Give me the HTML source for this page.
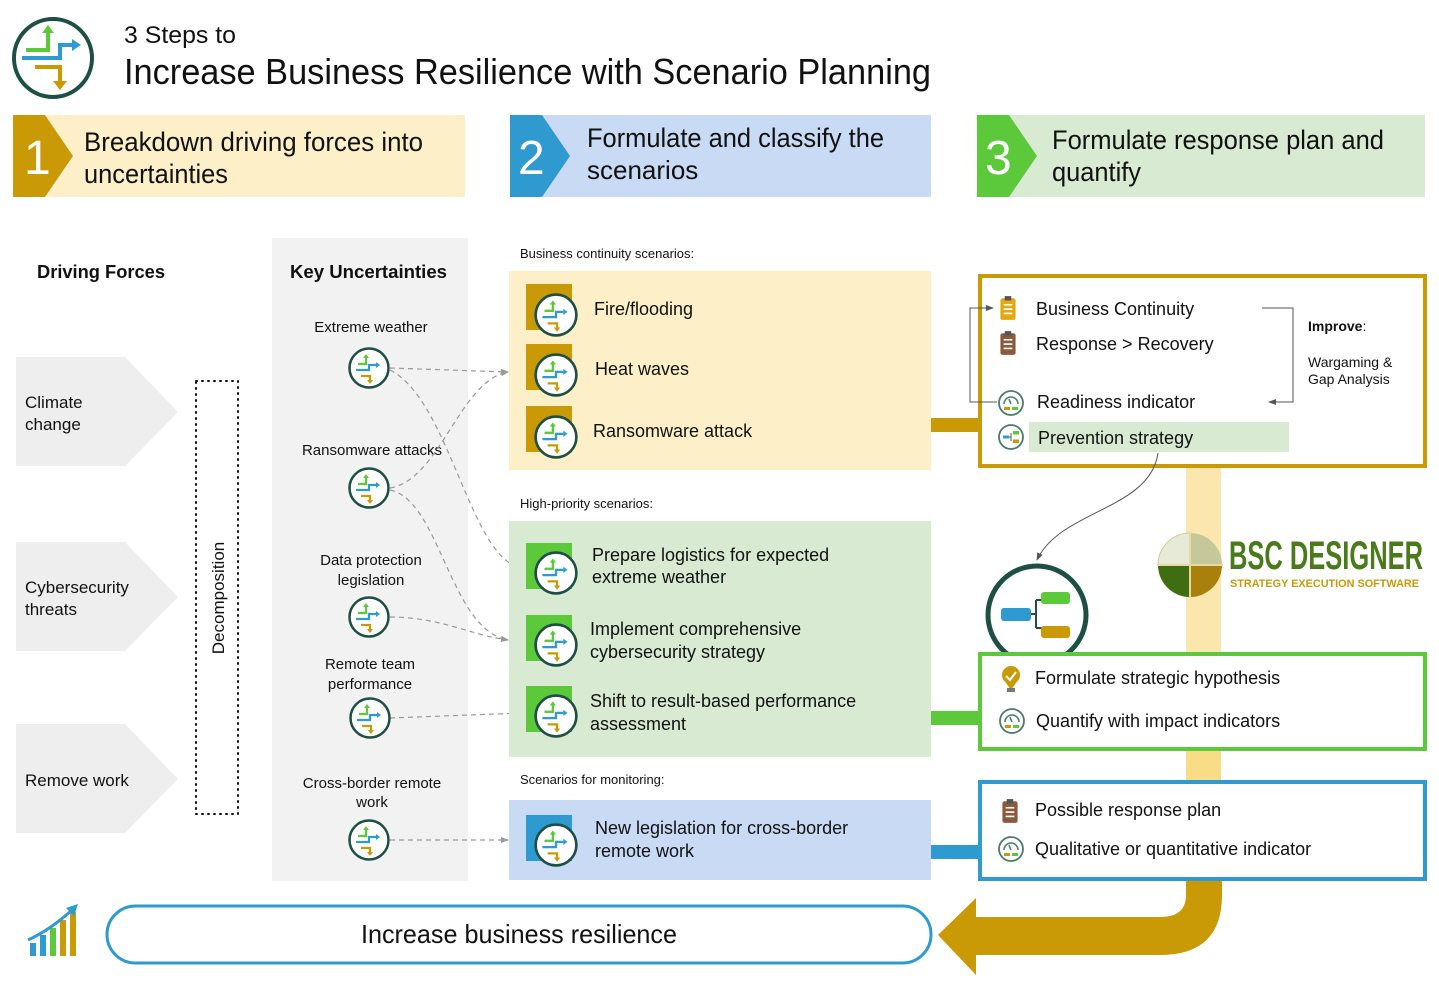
<!DOCTYPE html>
<html><head><meta charset="utf-8"><style>
html,body{margin:0;padding:0;background:#fff;}
svg{display:block;}
text{font-family:"Liberation Sans",sans-serif;fill:#111;}
</style></head><body>
<svg width="1439" height="982" viewBox="0 0 1439 982" xmlns="http://www.w3.org/2000/svg">
<defs>
<symbol id="ic" viewBox="-22 -22 44 44">
<circle r="19.5" fill="#fff" stroke="#1d4f45" stroke-width="2.5"/>
<path d="M-11 -4 H-3 V-11" fill="none" stroke="#5cc93a" stroke-width="2.2"/>
<path d="M-6 -10 L-3 -14 L0 -10Z" fill="#5cc93a"/>
<path d="M-13 2 H0 V-3 H7" fill="none" stroke="#2e9ad0" stroke-width="2.2"/>
<path d="M7 -6 L11 -3 L7 0Z" fill="#2e9ad0"/>
<path d="M-8 8 H1 V13" fill="none" stroke="#c99a06" stroke-width="2.2"/>
<path d="M-2 12 L1 16 L4 12Z" fill="#c99a06"/>
</symbol>
<symbol id="gauge" viewBox="-14 -14 28 28">
<circle r="12" fill="#fff" stroke="#4a7a6a" stroke-width="1.8"/>
<path d="M-7 1 A7 7 0 0 1 7 1" fill="none" stroke="#4a7a6a" stroke-width="1.5"/>
<line x1="0" y1="1" x2="-2" y2="-4" stroke="#4a7a6a" stroke-width="1.5"/>
<rect x="-7" y="4" width="6" height="3" fill="#c99a06"/><rect x="1" y="4" width="6" height="3" fill="#5cc93a"/>
</symbol>
<symbol id="clip" viewBox="0 0 16 24">
<rect x="1" y="3" width="14" height="20" rx="2"/>
<rect x="5" y="1" width="6" height="4" fill="#555"/>
<g stroke="#fff" stroke-width="1.5"><line x1="4" y1="9" x2="12" y2="9"/><line x1="4" y1="13" x2="12" y2="13"/><line x1="4" y1="17" x2="12" y2="17"/></g>
</symbol>
<marker id="ah" markerWidth="8" markerHeight="8" refX="7" refY="4" orient="auto" markerUnits="userSpaceOnUse"><path d="M0 1 L8 4 L0 7Z" fill="#999"/></marker>
<marker id="ah2" markerWidth="8" markerHeight="8" refX="7" refY="4" orient="auto" markerUnits="userSpaceOnUse"><path d="M0 1 L8 4 L0 7Z" fill="#555"/></marker>
</defs>

<circle cx="53" cy="58" r="39" fill="#fff" stroke="#1d4f45" stroke-width="4"/>
<path d="M26 50 H48 V31" fill="none" stroke="#5cc93a" stroke-width="4"/>
<path d="M42 33 L48 25 L54 33Z" fill="#5cc93a"/>
<path d="M22 58 H60 V45 H72" fill="none" stroke="#2e9ad0" stroke-width="4"/>
<path d="M72 39 L81 45 L72 51Z" fill="#2e9ad0"/>
<path d="M35 67 H60 V82" fill="none" stroke="#c99a06" stroke-width="4"/>
<path d="M53 81 L60 90 L67 81Z" fill="#c99a06"/>
<text x="124" y="43" font-size="24" textLength="112" lengthAdjust="spacingAndGlyphs">3 Steps to</text>
<text x="124" y="84" font-size="36" textLength="807" lengthAdjust="spacingAndGlyphs">Increase Business Resilience with Scenario Planning</text>

<rect x="13" y="115" width="452" height="82" fill="#fdf0c8"/>
<path d="M13 115 H45 L73 156 L45 197 H13Z" fill="#c99a06"/>
<text x="24" y="174" font-size="48" style="fill:#fff">1</text>
<text x="84" y="151" font-size="27" textLength="339" lengthAdjust="spacingAndGlyphs">Breakdown driving forces into</text>
<text x="84" y="183" font-size="27" textLength="144" lengthAdjust="spacingAndGlyphs">uncertainties</text>

<rect x="510" y="115" width="421" height="82" fill="#c9daf5"/>
<path d="M510 115 H542 L570 156 L542 197 H510Z" fill="#2e9ad0"/>
<text x="518" y="174" font-size="48" style="fill:#fff">2</text>
<text x="587" y="147" font-size="27" textLength="297" lengthAdjust="spacingAndGlyphs">Formulate and classify the</text>
<text x="587" y="179" font-size="26">scenarios</text>

<rect x="977" y="115" width="448" height="82" fill="#d9ead3"/>
<path d="M977 115 H1009 L1037 156 L1009 197 H977Z" fill="#5cc93a"/>
<text x="985" y="174" font-size="48" style="fill:#fff">3</text>
<text x="1052" y="149" font-size="27" textLength="332" lengthAdjust="spacingAndGlyphs">Formulate response plan and</text>
<text x="1052" y="181" font-size="27" textLength="89" lengthAdjust="spacingAndGlyphs">quantify</text>

<text x="37" y="278" font-size="18" font-weight="bold" textLength="128" lengthAdjust="spacingAndGlyphs">Driving Forces</text>
<rect x="272" y="238" width="196" height="643" fill="#f2f2f2"/>
<text x="290" y="278" font-size="18" font-weight="bold" textLength="157" lengthAdjust="spacingAndGlyphs">Key Uncertainties</text>

<path d="M16 357 H125 L178 412 L125 466 H16Z" fill="#eeeeee"/>
<text x="25" y="408" font-size="17">Climate</text><text x="25" y="430" font-size="17">change</text>
<path d="M16 542 H125 L178 597 L125 651 H16Z" fill="#eeeeee"/>
<text x="25" y="593" font-size="17">Cybersecurity</text><text x="25" y="615" font-size="17">threats</text>
<path d="M16 724 H125 L178 779 L125 833 H16Z" fill="#eeeeee"/>
<text x="25" y="786" font-size="17">Remove work</text>

<rect x="196" y="381" width="42" height="433" fill="none" stroke="#111" stroke-width="2" stroke-dasharray="1 5" stroke-linecap="round"/>
<text transform="translate(224,598) rotate(-90)" font-size="17" text-anchor="middle">Decomposition</text>

<g font-size="15" text-anchor="middle" fill="#222">
<text x="371" y="332">Extreme weather</text>
<text x="372" y="455">Ransomware attacks</text>
<text x="371" y="565">Data protection</text><text x="371" y="585">legislation</text>
<text x="370" y="669">Remote team</text><text x="370" y="689">performance</text>
<text x="372" y="788">Cross-border remote</text><text x="372" y="807">work</text>
</g>

<g fill="none" stroke="#999" stroke-width="1.2" stroke-dasharray="5 4" marker-end="url(#ah)">
<path d="M390 368 L508 372"/>
<path d="M390 370 C450 400 470 560 522 568"/>
<path d="M390 488 C440 480 460 380 508 372"/>
<path d="M390 490 C440 500 450 630 508 640"/>
<path d="M390 617 C440 617 470 635 508 640"/>
<path d="M390 718 L522 713"/>
<path d="M390 840 L508 840"/>
</g>

<use href="#ic" x="347" y="346" width="44" height="44"/>
<use href="#ic" x="347" y="466" width="44" height="44"/>
<use href="#ic" x="347" y="595" width="44" height="44"/>
<use href="#ic" x="348" y="696" width="44" height="44"/>
<use href="#ic" x="347" y="818" width="44" height="44"/>

<text x="520" y="258" font-size="13">Business continuity scenarios:</text>
<rect x="509" y="271" width="422" height="199" fill="#fdf0c8"/>
<rect x="526" y="284" width="46" height="46" fill="#c99a06"/>
<rect x="526" y="344" width="46" height="46" fill="#c99a06"/>
<rect x="526" y="406" width="46" height="46" fill="#c99a06"/>
<use href="#ic" x="533" y="292" width="46" height="46"/>
<use href="#ic" x="533" y="352" width="46" height="46"/>
<use href="#ic" x="533" y="414" width="46" height="46"/>
<g font-size="18"><text x="594" y="315">Fire/flooding</text><text x="595" y="375">Heat waves</text><text x="593" y="437">Ransomware attack</text></g>

<text x="520" y="508" font-size="13">High-priority scenarios:</text>
<rect x="509" y="521" width="422" height="236" fill="#d9ead3"/>
<rect x="526" y="543" width="46" height="46" fill="#5cc93a"/>
<rect x="526" y="615" width="46" height="46" fill="#5cc93a"/>
<rect x="526" y="686" width="46" height="46" fill="#5cc93a"/>
<use href="#ic" x="533" y="550" width="46" height="46"/>
<use href="#ic" x="533" y="622" width="46" height="46"/>
<use href="#ic" x="533" y="693" width="46" height="46"/>
<g font-size="18">
<text x="592" y="561">Prepare logistics for expected</text><text x="592" y="583">extreme weather</text>
<text x="590" y="635">Implement comprehensive</text><text x="590" y="658">cybersecurity strategy</text>
<text x="590" y="707">Shift to result-based performance</text><text x="590" y="730">assessment</text>
</g>

<text x="520" y="784" font-size="13">Scenarios for monitoring:</text>
<rect x="509" y="800" width="422" height="80" fill="#c9daf5"/>
<rect x="526" y="815" width="46" height="46" fill="#2e9ad0"/>
<use href="#ic" x="533" y="822" width="46" height="46"/>
<g font-size="18"><text x="595" y="834">New legislation for cross-border</text><text x="595" y="857">remote work</text></g>

<rect x="931" y="418" width="50" height="14" fill="#c99a06"/>
<rect x="931" y="711" width="50" height="14" fill="#5cc93a"/>
<rect x="931" y="845" width="50" height="14" fill="#2e9ad0"/>

<rect x="1186" y="466" width="35" height="316" fill="#fbe7ad"/>
<rect x="1186" y="749" width="35" height="33" fill="#f9dc86"/>

<path d="M1186 879 V895 Q1186 917 1160 917 H976 V898 L938 935 L976 975 V955 H1160 Q1222 955 1222 895 V879Z" fill="#c99a06"/>

<rect x="980" y="276" width="445" height="190" fill="#fff" stroke="#c99a06" stroke-width="4"/>
<use href="#clip" x="999" y="295" width="18" height="26" fill="#e0a912"/>
<use href="#clip" x="999" y="330" width="18" height="26" fill="#8b5a3c"/>
<use href="#gauge" x="997" y="389" width="28" height="28"/>
<g transform="translate(1011,437)">
<circle r="12" fill="#fff" stroke="#4a7a6a" stroke-width="1.8"/>
<rect x="-8" y="-1.5" width="6" height="3" fill="#2e9ad0"/>
<rect x="2" y="-6" width="6" height="3.5" fill="#5cc93a"/><rect x="2" y="2.5" width="6" height="3.5" fill="#c99a06"/>
<path d="M-2 0 H0 M0 -4 V4" stroke="#555" stroke-width="1"/>
</g>
<rect x="1029" y="422" width="260" height="30" fill="#d9ead3"/>
<g font-size="18">
<text x="1036" y="315">Business Continuity</text>
<text x="1036" y="350">Response &gt; Recovery</text>
<text x="1037" y="408">Readiness indicator</text>
<text x="1038" y="444">Prevention strategy</text>
</g>
<path d="M997 402 H970 V308 H993" fill="none" stroke="#555" stroke-width="1" marker-end="url(#ah2)"/>
<path d="M1262 308 H1293 V402 H1269" fill="none" stroke="#555" stroke-width="1" marker-end="url(#ah2)"/>
<text x="1308" y="331" font-size="14"><tspan font-weight="bold">Improve</tspan>:</text>
<text x="1308" y="367" font-size="14">Wargaming &amp;</text>
<text x="1308" y="384" font-size="14">Gap Analysis</text>
<path d="M1158 453 C1150 510 1060 510 1037 560" fill="none" stroke="#555" stroke-width="1" marker-end="url(#ah2)"/>

<g transform="translate(1190,565)">
<path d="M0 0 V-32 A32 32 0 0 0 -32 0Z" fill="#e8ead8" stroke="#d6c890" stroke-width="1"/>
<path d="M0 0 V-32 A32 32 0 0 1 32 0Z" fill="#c5c99a"/>
<path d="M0 0 H-32 A32 32 0 0 0 0 32Z" fill="#3f6d12"/>
<path d="M0 0 H32 A32 32 0 0 1 0 32Z" fill="#a9800c"/>
<path d="M-33 0 H33 M0 -33 V33" stroke="#e9d9a0" stroke-width="2"/>
</g>
<text x="1229" y="569" font-size="40" font-weight="bold" style="fill:#4a7a1a" textLength="194" lengthAdjust="spacingAndGlyphs">BSC DESIGNER</text>
<text x="1230" y="587" font-size="11" font-weight="bold" style="fill:#c99a06" textLength="189" lengthAdjust="spacingAndGlyphs">STRATEGY EXECUTION SOFTWARE</text>

<circle cx="1037" cy="615" r="49" fill="#fff" stroke="#1d4f45" stroke-width="5"/>
<rect x="1001" y="608" width="30" height="13" rx="3" fill="#2e9ad0"/>
<path d="M1031 614 H1036 M1036 600 V628 M1036 600 H1042 M1036 628 H1042" stroke="#1d4f45" stroke-width="2" fill="none"/>
<rect x="1041" y="592" width="29" height="12" rx="3" fill="#5cc93a"/>
<rect x="1041" y="626" width="29" height="12" rx="3" fill="#c99a06"/>

<rect x="980" y="654" width="445" height="95" fill="#fff" stroke="#5cc93a" stroke-width="4"/>
<circle cx="1011" cy="675" r="9" fill="#c99a06"/>
<path d="M1004 680 L1011 690 L1018 680Z" fill="#c99a06"/>
<rect x="1007" y="688" width="8" height="4" fill="#777"/>
<path d="M1006 676 L1010 680 L1016 672" fill="none" stroke="#fff" stroke-width="2"/>
<use href="#gauge" x="998" y="707" width="28" height="28"/>
<g font-size="18"><text x="1035" y="684">Formulate strategic hypothesis</text><text x="1036" y="727">Quantify with impact indicators</text></g>

<rect x="980" y="782" width="445" height="97" fill="#fff" stroke="#2e9ad0" stroke-width="4"/>
<use href="#clip" x="1001" y="798" width="18" height="26" fill="#8b5a3c"/>
<use href="#gauge" x="997" y="835" width="28" height="28"/>
<g font-size="18"><text x="1035" y="816">Possible response plan</text><text x="1035" y="855">Qualitative or quantitative indicator</text></g>

<rect x="107" y="906" width="824" height="57" rx="28.5" fill="#fff" stroke="#2e9ad0" stroke-width="3"/>
<text x="361" y="943" font-size="26" textLength="316" lengthAdjust="spacingAndGlyphs">Increase business resilience</text>
<g>
<rect x="30" y="943" width="6" height="13" fill="#2e9ad0"/>
<rect x="40" y="935" width="6" height="21" fill="#2e9ad0"/>
<rect x="50" y="928" width="6" height="28" fill="#5cc93a"/>
<rect x="60" y="920" width="6" height="36" fill="#c99a06"/>
<rect x="70" y="912" width="6" height="44" fill="#c99a06"/>
<path d="M28 940 Q50 930 72 910" fill="none" stroke="#2e9ad0" stroke-width="3"/>
<path d="M66 908 L78 904 L74 916Z" fill="#2e9ad0"/>
</g>
</svg>
</body></html>
